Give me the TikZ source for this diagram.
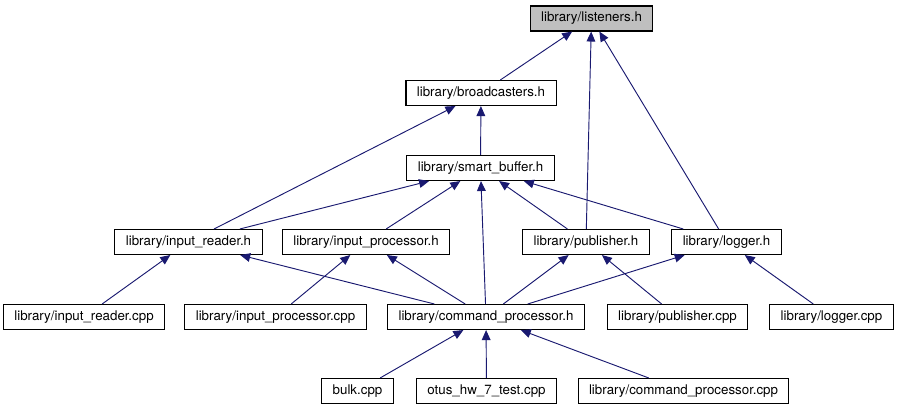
\documentclass[tikz,border=0pt]{standalone}
\usepackage{fontspec}
\setmainfont{TeX Gyre Heros}
\usetikzlibrary{arrows.meta}
\definecolor{edgeblue}{HTML}{191970}
\definecolor{rootgray}{HTML}{BFBFBF}

\begin{document}
\begin{tikzpicture}[x=0.75pt, y=-0.75pt, font=\fontsize{10}{12}\selectfont]
% Styles
\tikzset{
    file/.style={draw=black, line width=0.8pt, fill=white, minimum height=18.75pt, inner xsep=8.2pt, inner ysep=0pt},
    root/.style={file, fill=rootgray},
    dep/.style={draw=edgeblue, line width=0.7pt, -{Triangle[length=7.5pt, width=6.5pt]}}
}
\useasboundingbox (0, 0) rectangle (899, 411);

% Nodes
\node[root] (LST) at (591.5, 18.5) {library/listeners.h};
\node[file] (BRC) at (481, 93) {library/broadcasters.h};
\node[file] (SMB) at (480.5, 168) {library/smart\_buffer.h};
\node[file] (IRH) at (188.5, 242) {library/input\_reader.h};
\node[file] (IPH) at (366, 242) {library/input\_processor.h};
\node[file] (PBH) at (586, 242) {library/publisher.h};
\node[file] (LGH) at (726.5, 242) {library/logger.h};
\node[file] (IRC) at (84, 317) {library/input\_reader.cpp};
\node[file] (IPC) at (275.5, 317) {library/input\_processor.cpp};
\node[file] (CPH) at (486, 317) {library/command\_processor.h};
\node[file] (PBC) at (677.5, 317) {library/publisher.cpp};
\node[file] (LGC) at (831.5, 317) {library/logger.cpp};
\node[file] (BLK) at (357.5, 391) {bulk.cpp};
\node[file] (TST) at (486.5, 391) {otus\_hw\_7\_test.cpp};
\node[file] (CPC) at (683.5, 391) {library/command\_processor.cpp};

% Connections
\draw[dep] (BRC) -- (LST);
\draw[dep] (PBH) -- (LST);
\draw[dep] (LGH) -- (LST);

\draw[dep] (SMB) -- (BRC);
\draw[dep] (IRH) -- (BRC);

\draw[dep] (IRH) -- (SMB);
\draw[dep] (IPH) -- (SMB);
\draw[dep] (CPH) -- (SMB);
\draw[dep] (PBH) -- (SMB);
\draw[dep] (LGH) -- (SMB);

\draw[dep] (IRC) -- (IRH);
\draw[dep] (CPH) -- (IRH);
\draw[dep] (IPC) -- (IPH);
\draw[dep] (CPH) -- (IPH);
\draw[dep] (CPH) -- (PBH);
\draw[dep] (PBC) -- (PBH);
\draw[dep] (CPH) -- (LGH);
\draw[dep] (LGC) -- (LGH);

\draw[dep] (BLK) -- (CPH);
\draw[dep] (TST) -- (CPH);
\draw[dep] (CPC) -- (CPH);
\end{tikzpicture}
\end{document}
